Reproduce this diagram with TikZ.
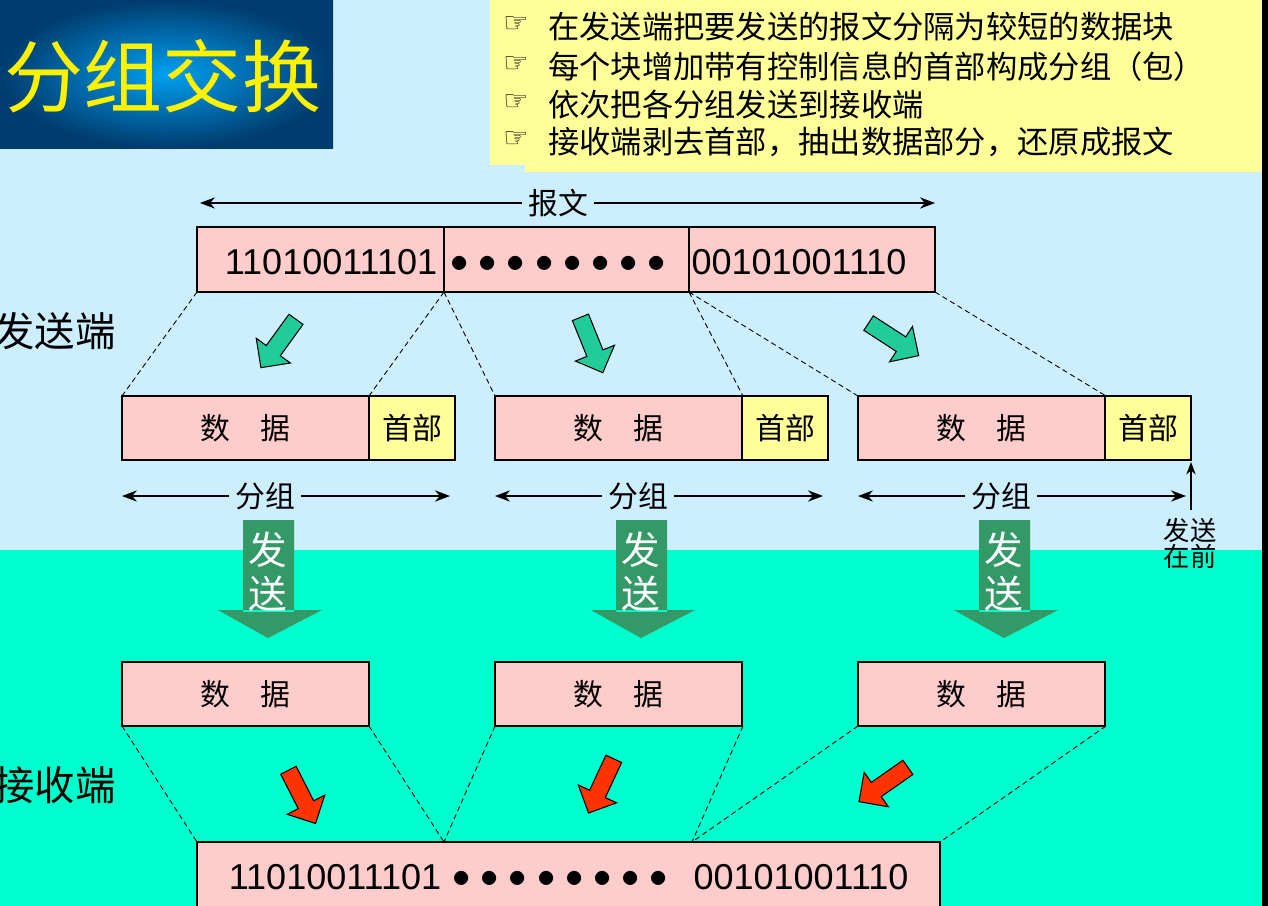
\documentclass[tikz,border=0pt]{standalone}
\usepackage{fontspec}
\setmainfont{Liberation Sans}
\newfontfamily\cjk{Noto Sans CJK SC}
\newfontfamily\sym{DejaVu Sans}
\usetikzlibrary{shapes.arrows,arrows.meta}
\definecolor{skyb}{HTML}{CCEEFF}
\definecolor{aqua}{HTML}{00FFCC}
\definecolor{pinkb}{HTML}{FFCCCC}
\definecolor{yelb}{HTML}{FFFF99}
\definecolor{grnar}{HTML}{22CC99}
\definecolor{sendar}{HTML}{339966}
\definecolor{redar}{HTML}{FF3300}

\tikzset{
  cell/.style={draw, line width=1.2pt, fill=pinkb},
  head/.style={cell, fill=yelb},
  word/.style={font=\cjk\fontsize{17}{17}\selectfont},
  bits/.style={font=\fontsize{20.5}{20.5}\selectfont},
  cut/.style={densely dashed, line width=0.5pt},
  span/.style={-{Stealth[length=3mm]}, line width=0.6pt},
  fat/.style={single arrow, draw, line width=0.6pt, minimum height=34pt, minimum width=24pt, single arrow head extend=4pt, inner sep=2.5pt},
}
\newcommand\dotrow{$\bullet$\ $\bullet$\ $\bullet$\ $\bullet$\ $\bullet$\ $\bullet$\ $\bullet$\ $\bullet$}

\begin{document}
\begin{tikzpicture}[x=0.02cm, y=-0.02cm]

\useasboundingbox (0,0) rectangle (1268,906);
\fill[skyb] (0,0) rectangle (1268,550);
\fill[aqua] (0,550) rectangle (1268,906);
\fill[black] (1262,0) rectangle (1268,906);

% title and notes
\shade[inner color={rgb,255:red,0;green,160;blue,240}, outer color={rgb,255:red,0;green,60;blue,110}] (0,0) rectangle (333,148);
\node[text=yellow, font=\cjk\fontsize{45}{45}\selectfont] (title) at (163,76) {分组交换};
\fill[yelb] (490,0) rectangle (1262,165);
\fill[yelb] (525,165) rectangle (1262,172);
\foreach \y/\t in {27/在发送端把要发送的报文分隔为较短的数据块, 67/每个块增加带有控制信息的首部构成分组（包）, 105/依次把各分组发送到接收端, 142/接收端剥去首部，抽出数据部分，还原成报文}
  \node[anchor=west, font=\cjk\fontsize{17.8}{17.8}\selectfont, inner sep=0] at (548,\y) {\t};
\foreach \y in {27,67,105,142}
  \node[font=\sym\fontsize{16}{16}\selectfont] at (516,\y-2) {☞};

% message
\node[fill=skyb, word] (msg) at (558,203) {报文};
\draw[span] (msg.west) -- (200,203);
\draw[span] (msg.east) -- (935,203);
\draw[cell] (197,227) rectangle (935,292);
\draw[line width=1.2pt] (444,227) -- (444,292) (689,227) -- (689,292);
\node[bits] (bits1) at (331,262) {11010011101};
\node[bits, anchor=west, inner sep=0] (dots1) at (450,264) {\dotrow};
\node[bits] (bits2) at (799,262) {00101001110};
\coordinate (s0) at (197,292); \coordinate (s1) at (444,292);
\coordinate (s2) at (689,292); \coordinate (s3) at (935,292);

\node[anchor=west, font=\cjk\fontsize{23}{23}\selectfont, inner sep=0] (sender) at (-6,331) {发送端};
\node[anchor=west, font=\cjk\fontsize{23}{23}\selectfont, inner sep=0] (receiver) at (-6,785) {接收端};

% packets
\foreach \n/\x in {1/122, 2/495, 3/858} {
  \draw[cell] (\x,396) rectangle coordinate (d\n) (\x+247,460);
  \draw[head] (\x+247,396) rectangle coordinate (h\n) (\x+333,460);
  \node[word] at (d\n) {数\quad 据};
  \node[word] at (h\n) {首部};
  \node[fill=skyb, word] (g\n) at (\x+143,496) {分组};
  \draw[span] (g\n.west) -- (\x,496);
  \draw[span] (g\n.east) -- (\x+328,496);
  \draw[cell] (\x,662) rectangle coordinate (r\n) (\x+247,726);
  \node[word] at (r\n) {数\quad 据};
  \fill[sendar] (\x+121,520) rectangle (\x+172,612) (\x+96,610) -- (\x+200,610) -- (\x+146,638) -- cycle;
  \node[text=white, align=center, font=\cjk\fontsize{22}{25}\selectfont] (send\n) at (\x+146,572) {发\\送};
}
\draw[cut] (s0) -- (122,396) (s1) -- (369,396) (s1) -- (495,396)
  (s2) -- (743,396) (s2) -- (858,396) (s3) -- (1106,396);

\draw[-{Stealth[length=2.5mm]}, line width=0.6pt] (1191,510) -- (1191,462);
\node[align=center, font=\cjk\fontsize{15}{12}\selectfont, inner sep=0] (first) at (1190,543) {发送\\在前};

\node[fat, fill=grnar, rotate=-126] at (281,340) {};
\node[fat, fill=grnar, rotate=-68] at (590,341) {};
\node[fat, fill=grnar, rotate=-33] at (890,337) {};

% receiver
\draw[cell] (197,842) rectangle (940,920);
\node[bits] (bits3) at (335,877) {11010011101};
\node[bits, anchor=west, inner sep=0] (dots2) at (452,879) {\dotrow};
\node[bits] (bits4) at (801,877) {00101001110};
\coordinate (t0) at (197,842); \coordinate (t1) at (444,842);
\coordinate (t2) at (692,842); \coordinate (t3) at (940,842);
\draw[cut] (122,726) -- (t0) (369,726) -- (t1) (495,726) -- (t1)
  (743,726) -- (t2) (858,726) -- (t2) (1106,726) -- (t3);

\node[fat, fill=redar, rotate=-63] at (300,793) {};
\node[fat, fill=redar, rotate=-115] at (603,782) {};
\node[fat, fill=redar, rotate=-145] at (887,782) {};

\end{tikzpicture}
\end{document}
